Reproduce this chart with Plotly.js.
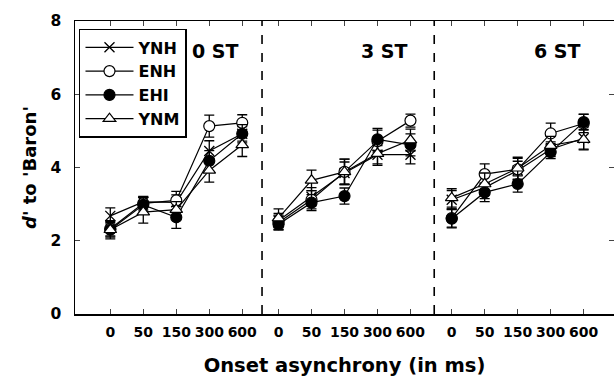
<!DOCTYPE html>
<html>
<head>
<meta charset="utf-8">
<script src="https://cdn.plot.ly/plotly-3.0.1.min.js"></script>
<style>html,body{margin:0;padding:0;background:#fff}#chart{width:614px;height:381px}</style>
</head>
<body>
<div id="chart"></div>
<script>
// ---- data ----
const categories = ['0', '50', '150', '300', '600'];
const panels = ['0 ST', '3 ST', '6 ST'];
const seriesNames = ['YNH', 'ENH', 'EHI', 'YNM'];

// mean d' per panel (0 ST, 3 ST, 6 ST), per onset asynchrony
const YNH = [[2.68, 3.06, 3.05, 4.45, 4.92], [2.55, 3.20, 3.85, 4.35, 4.35], [3.12, 3.45, 3.92, 4.50, 4.80]];
const ENH = [[2.33, 3.02, 3.10, 5.13, 5.22], [2.50, 3.12, 3.88, 4.72, 5.28], [2.62, 3.82, 3.95, 4.93, 5.20]];
const EHI = [[2.30, 2.98, 2.64, 4.18, 4.92], [2.45, 3.04, 3.22, 4.77, 4.62], [2.60, 3.32, 3.55, 4.42, 5.24]];
const YNM = [[2.30, 2.78, 2.85, 3.92, 4.62], [2.62, 3.65, 3.88, 4.38, 4.75], [3.17, 3.55, 3.98, 4.60, 4.76]];

// error bars (SE)
const YNH_err = [[0.22, 0.15, 0.20, 0.28, 0.20], [0.20, 0.25, 0.30, 0.25, 0.25], [0.25, 0.30, 0.25, 0.20, 0.30]];
const ENH_err = [[0.20, 0.18, 0.25, 0.30, 0.22], [0.20, 0.25, 0.35, 0.30, 0.18], [0.25, 0.28, 0.30, 0.28, 0.25]];
const EHI_err = [[0.20, 0.20, 0.30, 0.28, 0.25], [0.15, 0.22, 0.22, 0.30, 0.30], [0.25, 0.25, 0.22, 0.18, 0.22]];
const YNM_err = [[0.25, 0.30, 0.22, 0.32, 0.32], [0.25, 0.28, 0.35, 0.32, 0.30], [0.25, 0.30, 0.30, 0.25, 0.28]];

// ---- layout helpers ----
const panelOffset = [0, 5.1, 10.35];
const dividers = [4.6, 9.82];
const FONT = 'DejaVu Sans, Liberation Sans, Arial, sans-serif';

const seriesData = [YNH, ENH, EHI, YNM];
const seriesErr = [YNH_err, ENH_err, EHI_err, YNM_err];
const markerStyle = [
  {symbol: 'x-thin', size: 10, color: '#000', line: {color: '#000', width: 1.3}},
  {symbol: 'circle', size: 11, color: '#fff', line: {color: '#000', width: 1.2}},
  {symbol: 'circle', size: 11, color: '#000', line: {color: '#000', width: 1.2}},
  {symbol: 'triangle-up', size: 11, color: '#fff', line: {color: '#000', width: 1.2}}
];

const traces = seriesNames.map((name, s) => {
  const x = [], y = [], e = [];
  panels.forEach((p, pi) => {
    categories.forEach((c, ci) => {
      x.push(panelOffset[pi] + ci);
      y.push(seriesData[s][pi][ci]);
      e.push(seriesErr[s][pi][ci]);
    });
    if (pi < panels.length - 1) { x.push(null); y.push(null); e.push(null); }
  });
  return {
    type: 'scatter', mode: 'lines+markers', name: name, x: x, y: y,
    connectgaps: false,
    line: {color: '#000', width: 1.2},
    marker: markerStyle[s],
    error_y: {type: 'data', array: e, visible: true, color: '#000', thickness: 1.3, width: 5}
  };
});

const tickvals = [], ticktext = [];
panels.forEach((p, pi) => categories.forEach((c, ci) => { tickvals.push(panelOffset[pi] + ci); ticktext.push(c); }));

const layout = {
  width: 614, height: 381,
  margin: {l: 75, r: 0, t: 21, b: 67},
  paper_bgcolor: '#fff', plot_bgcolor: '#fff',
  font: {family: FONT, color: '#000'},
  showlegend: true,
  legend: {
    x: 0.0074, y: 0.973, xanchor: 'left', yanchor: 'top',
    bgcolor: '#fff', bordercolor: '#000', borderwidth: 1.5,
    font: {family: FONT, size: 16, weight: 'bold', color: '#000'},
    itemwidth: 48, tracegroupgap: 0
  },
  xaxis: {
    range: [-1.07, 15.27], tickmode: 'array', tickvals: tickvals, ticktext: ticktext,
    ticks: 'inside', ticklen: 5, tickwidth: 1, tickcolor: '#444',
    showline: true, linecolor: '#000', linewidth: 1.5, mirror: 'ticks',
    showgrid: false, zeroline: false,
    tickfont: {family: FONT, size: 14, weight: 'bold', color: '#000'},
    ticklabelstandoff: 5,
    title: {text: 'Onset asynchrony (in ms)', font: {family: FONT, size: 19.5, weight: 'bold'}, standoff: 19}
  },
  yaxis: {
    range: [0, 8], tickvals: [0, 2, 4, 6, 8],
    ticks: 'inside', ticklen: 5, tickwidth: 1, tickcolor: '#444',
    showline: true, linecolor: '#000', linewidth: 1.5, mirror: 'ticks',
    showgrid: false, zeroline: false,
    tickfont: {family: FONT, size: 15.5, weight: 'bold', color: '#000'},
    ticklabelstandoff: 9,
    title: {text: "<i>d'</i> to 'Baron'", font: {family: FONT, size: 18, weight: 'bold'}, standoff: 9}
  },
  shapes: dividers.map(d => ({
    type: 'line', xref: 'x', yref: 'paper', x0: d, x1: d, y0: 0, y1: 1,
    line: {color: '#000', width: 1.6, dash: 'dash'}
  })),
  annotations: panels.map((p, pi) => ({
    text: p, xref: 'x', yref: 'y', x: panelOffset[pi] + 3.2, y: 7.17,
    showarrow: false, font: {family: FONT, size: 19, weight: 'bold', color: '#000'}
  }))
};

Plotly.newPlot('chart', traces, layout, {staticPlot: true, displayModeBar: false});
</script>
</body>
</html>
